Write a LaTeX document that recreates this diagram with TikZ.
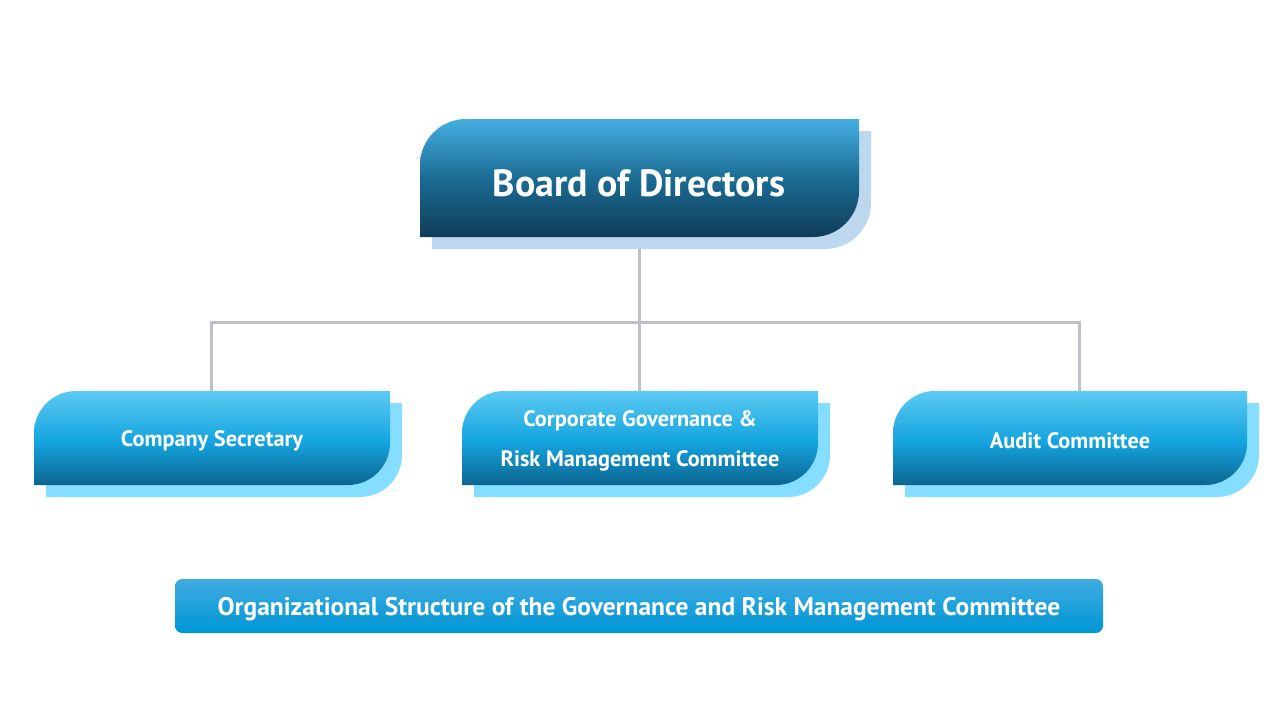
\documentclass[tikz,border=0pt]{standalone}
\usepackage{fontspec}
\setmainfont{PT Sans}
\definecolor{bigtop}{HTML}{45AEE0}
\definecolor{bigmid}{HTML}{1B6C94}
\definecolor{bigbot}{HTML}{0F3D58}
\definecolor{bigshadow}{HTML}{BDD7EE}
\definecolor{smalltop}{HTML}{5CCAF3}
\definecolor{smallmid}{HTML}{14A4DF}
\definecolor{smallbot}{HTML}{0C6590}
\definecolor{smallshadow}{HTML}{85DEFF}
\definecolor{bantop}{HTML}{3FACE1}
\definecolor{banbot}{HTML}{0096D6}
\definecolor{connc}{HTML}{C0BFC6}
\pgfdeclareverticalshading{smallgrad}{100bp}{color(0bp)=(smallbot); color(25bp)=(smallbot); color(48bp)=(smallmid); color(75bp)=(smalltop); color(100bp)=(smalltop)}
\pgfdeclareverticalshading{biggrad}{100bp}{color(0bp)=(bigbot); color(25bp)=(bigbot); color(50bp)=(bigmid); color(75bp)=(bigtop); color(100bp)=(bigtop)}
\newcommand{\leafbox}[6]{\path[#6] (#1,#4) -- (#1,{#2+#5}) .. controls (#1,{#2+0.448*#5}) and ({#1+0.448*#5},#2) .. ({#1+#5},#2) -- (#3,#2) -- (#3,{#4-#5}) .. controls (#3,{#4-0.448*#5}) and ({#3-0.448*#5},#4) .. ({#3-#5},#4) -- cycle;}
\tikzset{
  bigfill/.style={shading=biggrad},
  smallfill/.style={shading=smallgrad},
  lbl/.style={inner sep=0pt, text=white, font=\bfseries, align=center},
  conn/.style={draw=connc, line width=2.25pt},
}
\begin{document}
\begin{tikzpicture}[x=0.75pt,y=-0.75pt]
\useasboundingbox[fill=white] (0,0) rectangle (1280,704);
\node[minimum width=329.25pt, minimum height=88.5pt, inner sep=0pt] (board) at (639.5,178) {};
\node[minimum width=267pt, minimum height=70.5pt, inner sep=0pt] (cs) at (212,438) {};
\node[minimum width=267pt, minimum height=70.5pt, inner sep=0pt] (cg) at (640,438) {};
\node[minimum width=265.5pt, minimum height=70.5pt, inner sep=0pt] (ac) at (1070,438) {};
\coordinate (bus) at (639,322);
\draw[conn] ([xshift=-0.375pt]board.south) -- (bus);
\draw[conn] ([xshift=-0.75pt]cs.north) |- (bus) -| ([xshift=6.75pt]ac.north);
\draw[conn] (bus) -- ([xshift=-0.75pt]cg.north);
% board
\leafbox{432}{131}{871}{249}{46}{fill=bigshadow}
\leafbox{420}{119}{859}{237}{46}{bigfill}
\node[lbl, font=\bfseries\fontsize{28.4}{30}\selectfont] at (639,183) {Board of Directors};
% children
\leafbox{46}{403}{402}{497}{42}{fill=smallshadow}
\leafbox{34}{391}{390}{485}{42}{smallfill}
\node[lbl, font=\bfseries\fontsize{16.7}{18}\selectfont] at (212,441) {Company Secretary};
\leafbox{474}{403}{830}{497}{42}{fill=smallshadow}
\leafbox{462}{391}{818}{485}{42}{smallfill}
\node[lbl, font=\bfseries\fontsize{16.7}{30}\selectfont] at (640,441) {Corporate Governance \&\\Risk Management Committee};
\leafbox{905}{403}{1259}{497}{42}{fill=smallshadow}
\leafbox{893}{391}{1247}{485}{42}{smallfill}
\node[lbl, font=\bfseries\fontsize{16.7}{18}\selectfont] at (1070,441) {Audit Committee};
% banner
\path[top color=bantop, bottom color=banbot, rounded corners=5.5pt] (175,579) rectangle (1103,633);
\node[lbl, font=\bfseries\fontsize{19.1}{20}\selectfont] (banner) at (639,609) {Organizational Structure of the Governance and Risk Management Committee};
\end{tikzpicture}
\end{document}
